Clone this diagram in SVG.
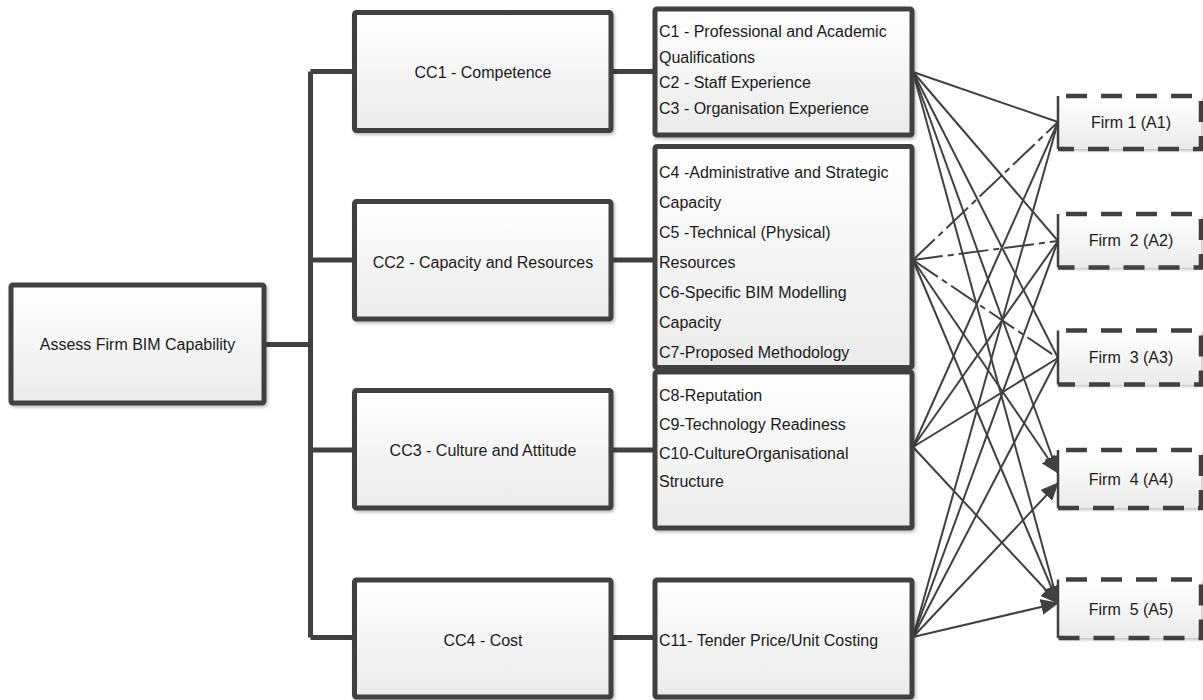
<svg xmlns="http://www.w3.org/2000/svg" width="1203" height="700" viewBox="0 0 1203 700">
<defs>
<linearGradient id="g" x1="0" y1="0" x2="0" y2="1">
<stop offset="0" stop-color="#ffffff"/>
<stop offset="1" stop-color="#ebebeb"/>
</linearGradient>
<filter id="sh" x="-5%" y="-5%" width="115%" height="115%">
<feDropShadow dx="1.5" dy="2" stdDeviation="1.5" flood-color="#000" flood-opacity="0.25"/>
</filter>
<marker id="ah" markerUnits="userSpaceOnUse" markerWidth="18" markerHeight="16" refX="17" refY="8" orient="auto">
<path d="M0,0 L18,8 L0,16 z" fill="#404040"/>
</marker>
</defs>
<style>
.box{fill:url(#g);stroke:#404040;stroke-width:5;filter:url(#sh)}
.fbox{fill:url(#g);stroke:none;filter:url(#sh)}
.dash{fill:none;stroke:#404040;stroke-width:4.5;stroke-dasharray:21 14}
.ledge{fill:none;stroke:#404040;stroke-width:2.5}
.tree{fill:none;stroke:#404040;stroke-width:5}
.ln{fill:none;stroke:#404040;stroke-width:2}
.gap{stroke-dasharray:30 5 6 5}
.arr{marker-end:url(#ah)}
text{font-family:"Liberation Sans",Arial,sans-serif;font-size:16px;fill:#1a1a1a}
.c{text-anchor:middle}
</style>

<g id="connectors">
<path class="tree" d="M266,344.5 H310.5 M310.5,71.5 V637.5 M310.5,71.5 H354 M310.5,260 H354 M310.5,450 H354 M310.5,637.5 H354"/>
<path class="tree" d="M612,71.5 H655 M612,260 H655 M612,450 H655 M612,637.5 H655"/>
<line class="ln" x1="913" y1="72" x2="1058" y2="122"/>
<line class="ln" x1="913" y1="72" x2="1058" y2="241"/>
<line class="ln" x1="913" y1="72" x2="1058" y2="358"/>
<line class="ln arr" x1="913" y1="72" x2="1058" y2="473"/>
<line class="ln arr" x1="913" y1="72" x2="1058" y2="603"/>
<line class="ln gap" x1="913" y1="260" x2="1058" y2="122"/>
<line class="ln gap" x1="913" y1="260" x2="1058" y2="241"/>
<line class="ln gap" x1="913" y1="260" x2="1058" y2="358"/>
<line class="ln arr" x1="913" y1="260" x2="1058" y2="473"/>
<line class="ln arr" x1="913" y1="260" x2="1058" y2="603"/>
<line class="ln" x1="913" y1="447" x2="1058" y2="122"/>
<line class="ln" x1="913" y1="447" x2="1058" y2="241"/>
<line class="ln" x1="913" y1="447" x2="1058" y2="358"/>
<line class="ln arr" x1="913" y1="447" x2="1058" y2="603"/>
<line class="ln" x1="913" y1="637" x2="1058" y2="122"/>
<line class="ln" x1="913" y1="637" x2="1058" y2="241"/>
<line class="ln" x1="913" y1="637" x2="1058" y2="358"/>
<line class="ln arr" x1="913" y1="637" x2="1058" y2="483"/>
<line class="ln arr" x1="913" y1="637" x2="1058" y2="603"/>
</g>

<g id="root">
<rect class="box" x="11" y="285" width="253" height="118" rx="2"/>
<text class="c" x="137.5" y="350">Assess Firm BIM Capability</text>
</g>

<g id="cc1">
<rect class="box" x="354.5" y="12.5" width="256.5" height="118" rx="2"/>
<text class="c" x="483" y="78">CC1 - Competence</text>
</g>
<g id="cc2">
<rect class="box" x="354.5" y="201.5" width="256.5" height="117.5" rx="2"/>
<text class="c" x="483" y="268">CC2 - Capacity and Resources</text>
</g>
<g id="cc3">
<rect class="box" x="354.5" y="390.5" width="256.5" height="117.5" rx="2"/>
<text class="c" x="483" y="456">CC3 - Culture and Attitude</text>
</g>
<g id="cc4">
<rect class="box" x="354.5" y="580" width="256.5" height="117" rx="2"/>
<text class="c" x="483" y="646">CC4 - Cost</text>
</g>

<g id="c1">
<rect class="box" x="655" y="9" width="257" height="126" rx="2"/>
<text x="659" y="37">C1 - Professional and Academic</text>
<text x="659" y="62.5">Qualifications</text>
<text x="659" y="88">C2 - Staff Experience</text>
<text x="659" y="113.5">C3 - Organisation Experience</text>
</g>
<g id="c2">
<rect class="box" x="655" y="146.5" width="257" height="221" rx="2"/>
<text x="659" y="178">C4 -Administrative and Strategic</text>
<text x="659" y="208">Capacity</text>
<text x="659" y="238">C5 -Technical (Physical)</text>
<text x="659" y="268">Resources</text>
<text x="659" y="298">C6-Specific BIM Modelling</text>
<text x="659" y="328">Capacity</text>
<text x="659" y="358">C7-Proposed Methodology</text>
</g>
<g id="c3">
<rect class="box" x="655" y="372" width="257" height="156" rx="2"/>
<text x="659" y="401">C8-Reputation</text>
<text x="659" y="430">C9-Technology Readiness</text>
<text x="659" y="459">C10-CultureOrganisational</text>
<text x="659" y="487">Structure</text>
</g>
<g id="c4">
<rect class="box" x="655" y="580" width="257" height="117" rx="2"/>
<text x="659" y="646">C11- Tender Price/Unit Costing</text>
</g>

<g id="firm1">
<rect class="fbox" x="1058" y="96" width="143" height="53"/>
<path class="dash" d="M1066,96 H1201 V149 H1058"/>
<path class="ledge" d="M1058,96 V149"/>
<text class="c" x="1131" y="128">Firm 1 (A1)</text>
</g>
<g id="firm2">
<rect class="fbox" x="1058" y="214" width="143" height="53.5"/>
<path class="dash" d="M1066,214 H1201 V267.5 H1058"/>
<path class="ledge" d="M1058,214 V267.5"/>
<text class="c" x="1131" y="246" xml:space="preserve">Firm  2 (A2)</text>
</g>
<g id="firm3">
<rect class="fbox" x="1058" y="330.5" width="143" height="54"/>
<path class="dash" d="M1066,330.5 H1201 V384.5 H1058"/>
<path class="ledge" d="M1058,330.5 V384.5"/>
<text class="c" x="1131" y="363" xml:space="preserve">Firm  3 (A3)</text>
</g>
<g id="firm4">
<rect class="fbox" x="1058" y="450" width="143" height="58"/>
<path class="dash" d="M1066,450 H1201 V508 H1058"/>
<path class="ledge" d="M1058,450 V508"/>
<text class="c" x="1131" y="485" xml:space="preserve">Firm  4 (A4)</text>
</g>
<g id="firm5">
<rect class="fbox" x="1058" y="579.5" width="143" height="58.5"/>
<path class="dash" d="M1066,579.5 H1201 V638 H1058"/>
<path class="ledge" d="M1058,579.5 V638"/>
<text class="c" x="1131" y="615" xml:space="preserve">Firm  5 (A5)</text>
</g>
</svg>
